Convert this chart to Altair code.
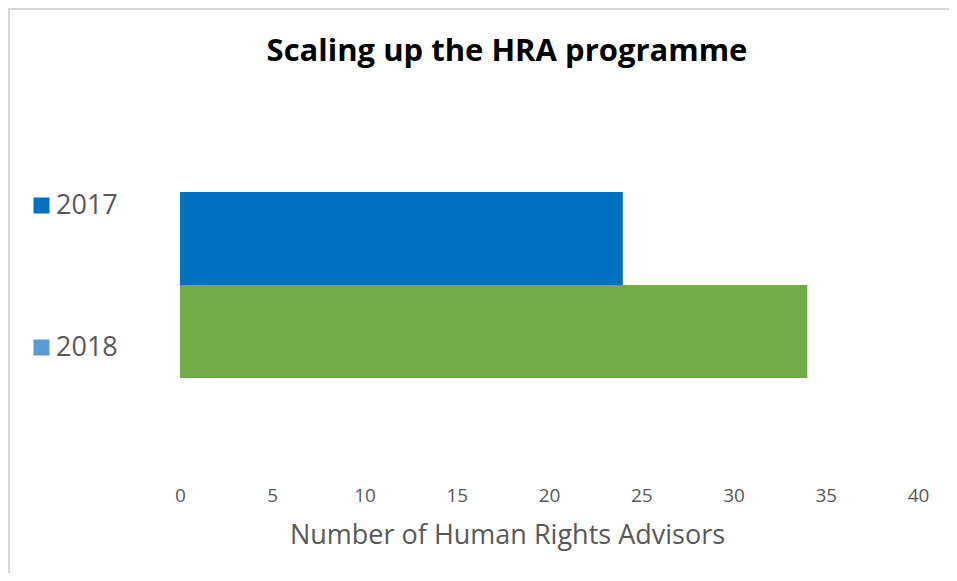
import altair as alt
import pandas as pd

years = ["2017", "2018"]
advisors = [24, 34]
bar_colors = ["#0070C0", "#70AD47"]
legend_colors = ["#0070C0", "#5B9BD5"]
x_ticks = [0, 5, 10, 15, 20, 25, 30, 35, 40]
chart_title = "Scaling up the HRA programme"
x_title = "Number of Human Rights Advisors"

FONT = "Open Sans"
GREY = "#595959"

df = pd.DataFrame({"year": years, "advisors": advisors})

x_enc = alt.X(
    "advisors:Q",
    scale=alt.Scale(domain=[0, 40], nice=False),
    axis=alt.Axis(
        values=x_ticks,
        title=x_title,
        domain=False,
        ticks=False,
        grid=False,
        labelFont=FONT,
        labelFontSize=19,
        labelColor=GREY,
        labelPadding=15,
        labelFlush=False,
        labelOverlap=False,
        titleFont=FONT,
        titleFontSize=27,
        titleFontWeight="normal",
        titleColor=GREY,
        titleX=327,
        titleY=72,
        titleAlign="center",
        titleBaseline="alphabetic",
    ),
)
y_enc = alt.Y(
    "year:N",
    sort=years,
    scale=alt.Scale(domain=years, paddingInner=0, paddingOuter=1),
    axis=None,
)

bars = alt.Chart(df).mark_bar().encode(
    x=x_enc,
    y=y_enc,
    color=alt.Color("year:N", scale=alt.Scale(domain=years, range=bar_colors), legend=None),
)

legend_layer = alt.Chart(df).mark_square(size=0, opacity=0).encode(
    x=alt.X("advisors:Q"),
    y=alt.Y("year:N", sort=years),
    color=alt.Color(
        "year:N",
        scale=alt.Scale(domain=years, range=legend_colors),
        legend=alt.Legend(
            title=None,
            orient="none",
            legendX=-152,
            legendY=93,
            padding=0,
            symbolType="square",
            symbolSize=256,
            symbolOpacity=1,
            symbolStrokeWidth=0,
            labelFont=FONT,
            labelFontSize=27,
            labelColor=GREY,
            labelOffset=1,
            rowPadding=114,
        ),
    ),
)

title_layer = alt.Chart(pd.DataFrame({"t": [chart_title]})).mark_text(
    font=FONT, fontSize=31, fontWeight="bold", color="#000000", align="center", baseline="alphabetic"
).encode(text="t:N", x=alt.value(327), y=alt.value(-38))

border_left = alt.Chart(pd.DataFrame({"a": [0]})).mark_rule(color="#d9d9d9", strokeWidth=2).encode(
    x=alt.value(-171), y=alt.value(-91), y2=alt.value(474)
)
border_top = alt.Chart(pd.DataFrame({"a": [0]})).mark_rule(color="#d9d9d9", strokeWidth=2).encode(
    x=alt.value(-172), x2=alt.value(769), y=alt.value(-90)
)

chart = (
    alt.layer(border_left, border_top, bars, legend_layer, title_layer)
    .resolve_scale(color="independent")
    .properties(
        width=738,
        height=372,
        autosize=alt.AutoSizeParams(type="none"),
        padding={"left": 172, "top": 91, "right": 31, "bottom": 102},
        background="white",
    )
    .configure_view(stroke=None)
)

chart.save("out.html", embed_options={"renderer": "svg", "actions": False})
